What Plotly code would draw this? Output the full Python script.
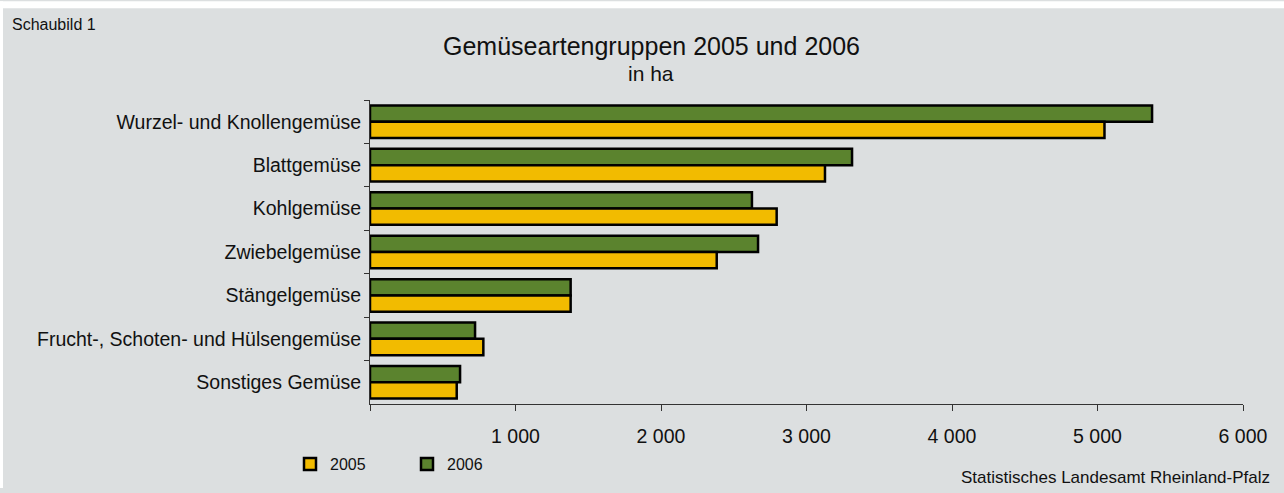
import plotly.graph_objects as go

categories = [
    "Wurzel- und Knollengemüse",
    "Blattgemüse",
    "Kohlgemüse",
    "Zwiebelgemüse",
    "Stängelgemüse",
    "Frucht-, Schoten- und Hülsengemüse",
    "Sonstiges Gemüse",
]
values_2005 = [5048, 3127, 2795, 2383, 1379, 779, 596]
values_2006 = [5375, 3313, 2625, 2667, 1379, 722, 619]
x_tickvals = [0, 1000, 2000, 3000, 4000, 5000, 6000]
x_ticktext = ["", "1 000", "2 000", "3 000", "4 000", "5 000", "6 000"]

W, H = 1284, 493
L, R, T, B = 370, 41, 100, 85
PW, PH = W - L - R, H - T - B


def px(x):
    return (x - L) / PW


def py(y):
    return (H - B - y) / PH


FONT = "Liberation Sans, Arial, sans-serif"
BG = "#dcdfe0"
GREEN = "#5b832e"
YELLOW = "#f2bb00"

fig = go.Figure()
fig.add_trace(go.Bar(
    y=categories, x=values_2006, name="2006", orientation="h",
    marker=dict(color=GREEN, line=dict(color="#000000", width=2.5)),
))
fig.add_trace(go.Bar(
    y=categories, x=values_2005, name="2005", orientation="h",
    marker=dict(color=YELLOW, line=dict(color="#000000", width=2.5)),
))

fig.update_layout(
    width=W, height=H,
    margin=dict(l=L, r=R, t=T, b=B, pad=0),
    paper_bgcolor=BG, plot_bgcolor=BG,
    barmode="group", bargap=0.25, bargroupgap=0,
    font=dict(family=FONT, size=19, color="#111111"),
    showlegend=True,
    legend=dict(
        orientation="h", traceorder="reversed",
        x=px(290), y=py(469), xanchor="left", yanchor="middle",
        bgcolor="rgba(0,0,0,0)", font=dict(size=16),
        entrywidth=72, itemwidth=30,
    ),
    xaxis=dict(
        range=[0, 6000], tickvals=x_tickvals, ticktext=x_ticktext,
        showgrid=False, zeroline=False,
        showline=True, linecolor="#333333", linewidth=1,
        ticks="outside", ticklen=6, tickcolor="#333333",
        tickfont=dict(size=19.5), ticklabelstandoff=9,
        fixedrange=True,
    ),
    yaxis=dict(
        autorange="reversed", type="category",
        showgrid=False, zeroline=False,
        showline=True, linecolor="#333333", linewidth=1,
        ticks="outside", ticklen=5, tickcolor="#333333",
        tickson="boundaries", tickfont=dict(size=19.5),
        ticklabelstandoff=4,
    ),
    shapes=[
        dict(type="rect", xref="paper", yref="paper",
             x0=px(0), x1=px(W), y0=py(7), y1=py(0),
             fillcolor="#ffffff", line=dict(width=0), layer="below"),
        dict(type="rect", xref="paper", yref="paper",
             x0=px(0), x1=px(3), y0=py(H), y1=py(0),
             fillcolor="#ffffff", line=dict(width=0), layer="below"),
    ],
    annotations=[
        dict(text="Gemüseartengruppen 2005 und 2006", xref="paper", yref="paper",
             x=px(651), y=py(45), xanchor="center", yanchor="middle",
             showarrow=False, font=dict(size=25)),
        dict(text="in ha", xref="paper", yref="paper",
             x=px(651), y=py(73), xanchor="center", yanchor="middle",
             showarrow=False, font=dict(size=21)),
        dict(text="Schaubild 1", xref="paper", yref="paper",
             x=px(10), y=py(23), xanchor="left", yanchor="middle",
             showarrow=False, font=dict(size=16)),
        dict(text="Statistisches Landesamt Rheinland-Pfalz", xref="paper", yref="paper",
             x=px(1272), y=py(482), xanchor="right", yanchor="middle",
             showarrow=False, font=dict(size=17)),
    ],
)

fig.write_html(
    "out.html",
    config={"displayModeBar": False},
    post_script=(
        "document.body.style.margin='0';document.body.style.padding='0';"
        "document.body.style.overflow='hidden';"
        "document.documentElement.style.overflow='hidden';"
    ),
)
